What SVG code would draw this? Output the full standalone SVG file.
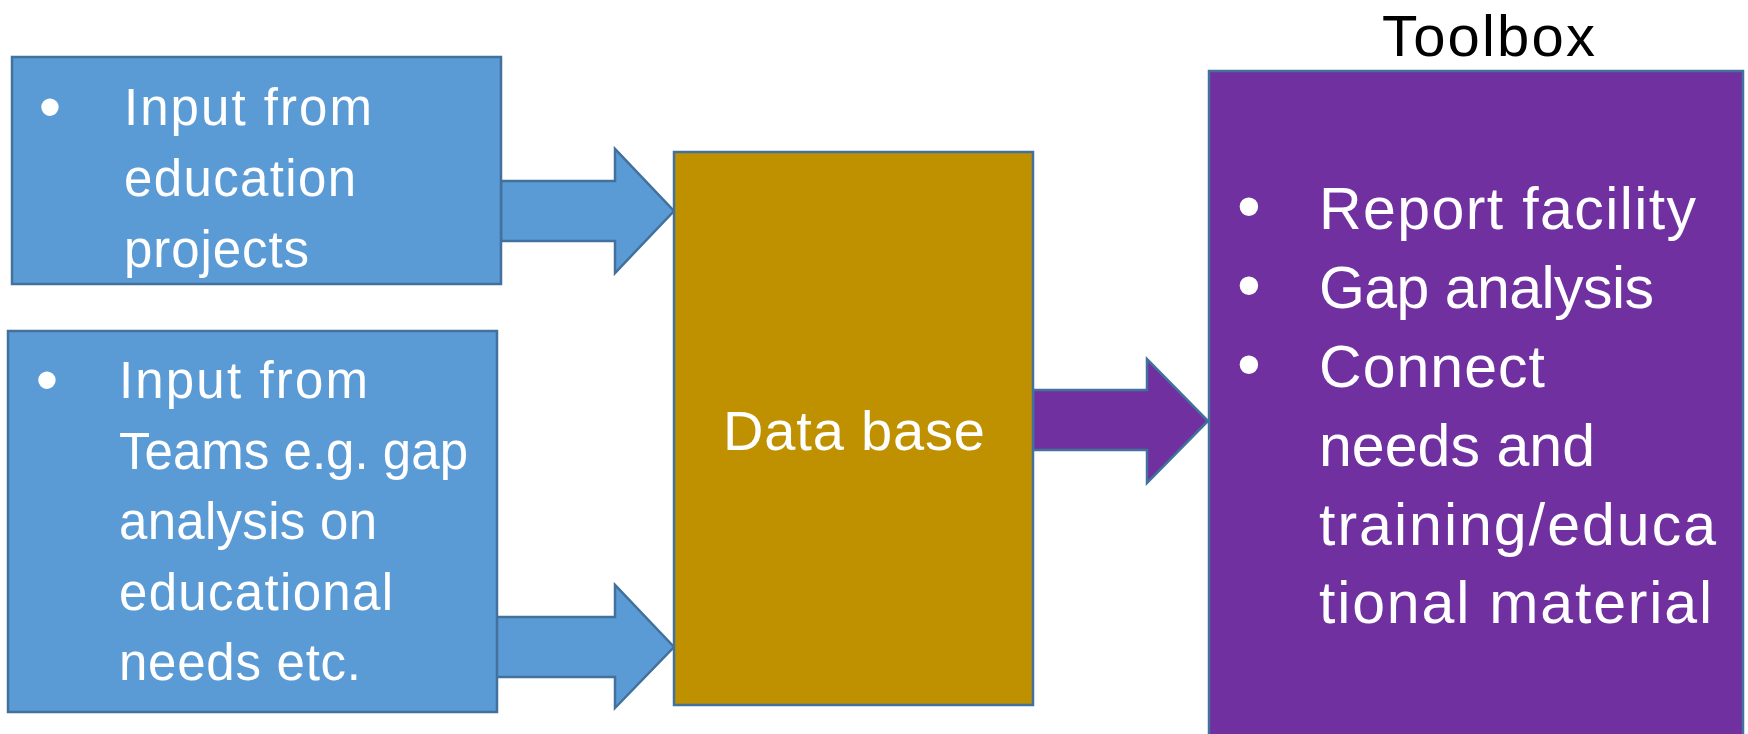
<svg xmlns="http://www.w3.org/2000/svg" width="1748" height="734" viewBox="0 0 1748 734">
<style>
.blue{fill:#5B9BD5;stroke:#41719C;stroke-width:2.5}
.gold{fill:#BF9000;stroke:#41719C;stroke-width:2.5}
.purple{fill:#7030A0;stroke:#41719C;stroke-width:2.5}
.t{font-family:"Liberation Sans",Arial,sans-serif;fill:#ffffff}
.b50{font-size:51px}
.b58{font-size:59px}
.bul{font-family:"Liberation Sans",Arial,sans-serif;fill:#ffffff;text-anchor:middle}
</style>
<rect width="1748" height="734" fill="#ffffff"/>
<g id="connectors">
<polygon class="blue" points="501,181 615,181 615,149 674,211 615,273 615,241 501,241"/>
<polygon class="blue" points="496,617 615,617 615,585 674,647 615,708 615,677 496,677"/>
<polygon class="purple" points="1033,390 1147,390 1147,359 1208,421 1147,483 1147,450 1033,450"/>
</g>
<g id="node-education">
<rect class="blue" x="12" y="57" width="489" height="227"/>
<text class="bul" x="50" y="129" font-size="64">•</text>
<text class="t b50" x="124" y="125" textLength="248">Input from</text>
<text class="t b50" x="124" y="196" textLength="232">education</text>
<text class="t b50" x="124" y="267" textLength="185">projects</text>
</g>
<g id="node-teams">
<rect class="blue" x="8" y="331" width="489" height="381"/>
<text class="bul" x="47" y="402" font-size="64">•</text>
<text class="t b50" x="119" y="398" textLength="249">Input from</text>
<text class="t b50" x="119" y="469" textLength="349">Teams e.g. gap</text>
<text class="t b50" x="119" y="539" textLength="258">analysis on</text>
<text class="t b50" x="119" y="610" textLength="274">educational</text>
<text class="t b50" x="119" y="680" textLength="242">needs etc.</text>
</g>
<g id="node-database">
<rect class="gold" x="674" y="152" width="359" height="553"/>
<text class="t" x="854" y="450" font-size="56" text-anchor="middle" textLength="262">Data base</text>
</g>
<g id="node-toolbox">
<text x="1382" y="56" font-family="Liberation Sans, Arial, sans-serif" font-size="58" fill="#000000" textLength="213">Toolbox</text>
<rect class="purple" x="1209" y="71" width="534" height="680"/>
<text class="bul" x="1249" y="229" font-size="68">•</text>
<text class="bul" x="1249" y="308" font-size="68">•</text>
<text class="bul" x="1249" y="387" font-size="68">•</text>
<text class="t b58" x="1319" y="229" textLength="377">Report facility</text>
<text class="t b58" x="1319" y="308" textLength="335">Gap analysis</text>
<text class="t b58" x="1319" y="387" textLength="226">Connect</text>
<text class="t b58" x="1319" y="466" textLength="276">needs and</text>
<text class="t b58" x="1319" y="545" textLength="397">training/educa</text>
<text class="t b58" x="1319" y="623" textLength="393">tional material</text>
</g>
</svg>
